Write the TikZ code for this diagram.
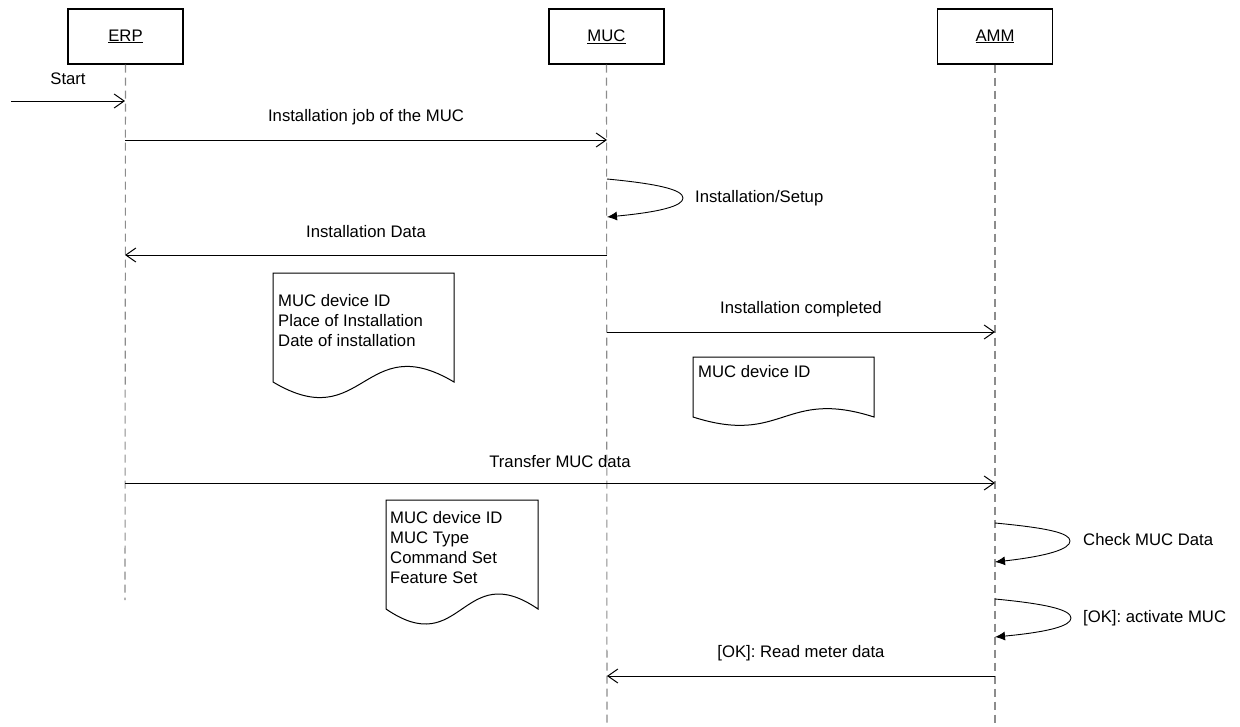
\documentclass[tikz,border=0pt]{standalone}
\usepackage{fontspec}
\setmainfont{Liberation Sans}
\usetikzlibrary{arrows.meta}

% document symbol: flat top, wavy bottom (left, top, right, bottom, wave control offset)
\newcommand\docoutline[5]{%
  \draw[docline] (#1,#2) -- (#3,#2) -- (#3,#4)
    .. controls ({(#1+#3)/2},{#4-#5}) and ({(#1+#3)/2},{#4+#5}) .. (#1,#4) -- cycle;}

\tikzset{
  actor/.style={draw, line width=1.3pt, minimum width=115pt, minimum height=55pt, inner sep=0pt},
  lifeline/.style={draw=black!45, line width=1.1pt, dash pattern=on 8pt off 5pt},
  msg/.style={draw, line width=1pt, -{Straight Barb[length=10pt,width=14pt,line width=1pt]}},
  selfmsg/.style={draw, line width=0.9pt, -{Latex[length=10pt,width=9pt]}},
  msglabel/.style={inner sep=0pt},
  docline/.style={draw, line width=1pt},
  doctext/.style={inner sep=0pt, align=left, anchor=north west}
}

\begin{document}
\begin{tikzpicture}[x=1pt, y=-1pt, font=\fontsize{16.7}{20}\selectfont]
\useasboundingbox (0,0) rectangle (1240,726);

% participants
\node[actor] (erp) at (125.5,36.5) {\underline{ERP}};
\node[actor] (muc) at (606.5,36.5) {\underline{MUC}};
\node[actor] (amm) at (995,36.5) {\underline{AMM}};

% lifeline ends
\coordinate (erp-end) at (125,600);
\coordinate (muc-end) at (607,726);
\coordinate (amm-end) at (995,726);
\draw[lifeline] (erp.south) -- (erp-end);
\draw[lifeline] (muc.south) -- (muc-end);
\draw[lifeline] (amm.south) -- (amm-end);

% message anchor points on the lifelines
\coordinate (start-in) at (11,101);
\coordinate (erp-1) at (125,101);
\coordinate (erp-2) at (125,140);
\coordinate (muc-2) at (607,140);
\coordinate (muc-3a) at (607,179);
\coordinate (muc-3b) at (607,217);
\coordinate (muc-4) at (607,255);
\coordinate (erp-4) at (125,255);
\coordinate (muc-6) at (607,332);
\coordinate (amm-6) at (995,332);
\coordinate (erp-8) at (125,483);
\coordinate (amm-8) at (995,483);
\coordinate (amm-10a) at (995,523);
\coordinate (amm-10b) at (995,562);
\coordinate (amm-11a) at (995,599);
\coordinate (amm-11b) at (995,637);
\coordinate (amm-12) at (995,676);
\coordinate (muc-12) at (607,676);

% start
\draw[msg] (start-in) -- (erp-1);
\node[msglabel] (lstart) at (68,79) {Start};

% installation job
\draw[msg] (erp-2) -- (muc-2);
\node[msglabel] (ljob) at (366,117) {Installation job of the MUC};

% installation / setup
\draw[selfmsg] (muc-3a) .. controls (660,184) and (683,190) .. (683,198)
  .. controls (683,206) and (660,212) .. (muc-3b);
\node[msglabel, anchor=west] (lsetup) at (695,198) {Installation/Setup};

% installation data
\draw[msg] (muc-4) -- (erp-4);
\node[msglabel] (ldata) at (366,232) {Installation Data};
\docoutline{273}{273}{454}{382}{54}
\node[doctext] (doc1) at (278,294) {MUC device ID\\Place of Installation\\Date of installation};

% installation completed
\draw[msg] (muc-6) -- (amm-6);
\node[msglabel] (ldone) at (801,309) {Installation completed};
\docoutline{693}{357}{874}{417}{29}
\node[doctext] (doc2) at (698,365) {MUC device ID};

% transfer MUC data
\draw[msg] (erp-8) -- (amm-8);
\node[msglabel] (ltransfer) at (560,462) {Transfer MUC data};
\docoutline{386}{500}{538}{609}{52}
\node[doctext] (doc3) at (390,511) {MUC device ID\\MUC Type\\Command Set\\Feature Set};

% check MUC data
\draw[selfmsg] (amm-10a) .. controls (1048,528) and (1070,533) .. (1070,541)
  .. controls (1070,549) and (1048,556) .. (amm-10b);
\node[msglabel, anchor=west] (lcheck) at (1083,540) {Check MUC Data};

% activate MUC
\draw[selfmsg] (amm-11a) .. controls (1048,604) and (1071,610) .. (1071,618)
  .. controls (1071,626) and (1048,632) .. (amm-11b);
\node[msglabel, anchor=west] (lactivate) at (1083,618) {[OK]: activate MUC};

% read meter data
\draw[msg] (amm-12) -- (muc-12);
\node[msglabel] (lread) at (801,653) {[OK]: Read meter data};
\end{tikzpicture}
\end{document}
